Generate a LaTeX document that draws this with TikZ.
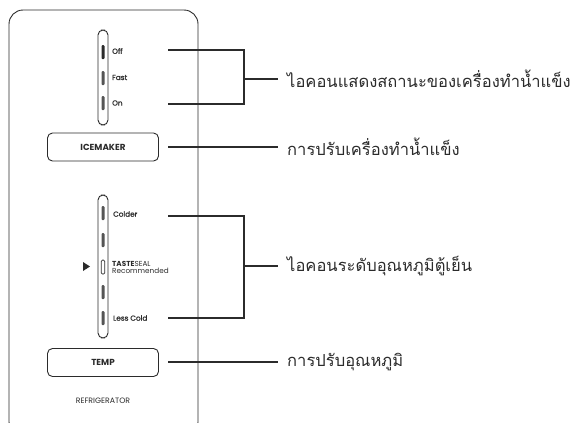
\documentclass[tikz,border=0pt]{standalone}
\usepackage{fontspec}
\setmainfont{Poppins}
\newfontfamily\medfont[FakeBold=1.2]{Poppins}
\newfontfamily\thaifont[Script=Thai]{Loma}
\definecolor{ink}{HTML}{2B2B2B}
\definecolor{markgray}{HTML}{555555}
\begin{document}
\begin{tikzpicture}[x=1bp,y=-1bp,
  panel/.style={draw=ink,line width=0.9bp,rounded corners=14bp},
  slot/.style={draw=ink,line width=0.9bp,rounded corners=5bp},
  btn/.style={draw=ink,line width=0.9bp,rounded corners=5bp,minimum width=111bp,minimum height=28bp,font=\bfseries\fontsize{8.8}{10}\selectfont,text=ink},
  lbl/.style={anchor=west,inner sep=0pt,font=\medfont\fontsize{7.3}{8.5}\selectfont,text=ink},
  thai/.style={anchor=west,inner sep=0pt,font=\thaifont\fontsize{16.6}{19}\selectfont,text=ink},
  conn/.style={draw=ink,line width=1.2bp},
  led/.style={fill=markgray,rounded corners=1bp},
]
\useasboundingbox (0,0) rectangle (573,422);
% panel
\draw[panel] (9,10) rectangle (198,436);
% slider 1
\draw[slot] (98,30) rectangle (108,125);
\fill[ink,rounded corners=1bp] (101.5,45) rectangle (104.5,59);
\fill[led] (101.5,71) rectangle (104.5,85);
\fill[led] (101.5,96) rectangle (104.5,110);
\node[lbl] (off) at (112,51) {Off};
\node[lbl] (fast) at (112,77.5) {Fast};
\node[lbl] (on) at (112,103) {On};
% icemaker button
\node[btn] (ice) at (103,147) {ICEMAKER};
% slider 2
\draw[slot] (98,195) rectangle (108,338);
\fill[led] (101.5,206) rectangle (104.5,220);
\fill[led] (101.5,233) rectangle (104.5,247);
\draw[ink,line width=0.7bp,rounded corners=1.2bp] (101.3,260) rectangle (104.7,274);
\fill[led] (101.5,285) rectangle (104.5,299);
\fill[led] (101.5,311) rectangle (104.5,325);
\fill[ink] (83,262) -- (90,266.5) -- (83,271) -- cycle;
\node[lbl] (colder) at (113,214) {Colder};
\node[lbl,align=left,font=\fontsize{7.3}{8.5}\selectfont] (taste) at (112,267) {\textbf{TASTE}SEAL\\[-1.5bp]Recommended};
\node[lbl] (less) at (113,318) {Less Cold};
% temp button
\node[btn] (temp) at (103,362.5) {TEMP};
\node[font=\fontsize{7.8}{9}\selectfont,text=ink] (refr) at (103,401) {REFRIGERATOR};
% connectors
\coordinate (a1) at (168,50);
\coordinate (a2) at (168,104);
\coordinate (ab) at (244,79);
\node[thai] (t1) at (287,79) {ไอคอนแสดงสถานะของเครื่องทำน้ำแข็ง};
\draw[conn] (a1) -| (ab) |- (a2);
\draw[conn] (ab) -- (278,79);
\coordinate (b1) at (168,147);
\node[thai] (t2) at (287,147) {การปรับเครื่องทำน้ำแข็ง};
\draw[conn] (b1) -- (278,147);
\coordinate (c1) at (168,216);
\coordinate (c2) at (168,318);
\coordinate (cb) at (244,266);
\node[thai] (t3) at (287,266) {ไอคอนระดับอุณหภูมิตู้เย็น};
\draw[conn] (c1) -| (cb) |- (c2);
\draw[conn] (cb) -- (278,266);
\coordinate (d1) at (168,362);
\node[thai] (t4) at (287,362) {การปรับอุณหภูมิ};
\draw[conn] (d1) -- (278,362);
\end{tikzpicture}
\end{document}
